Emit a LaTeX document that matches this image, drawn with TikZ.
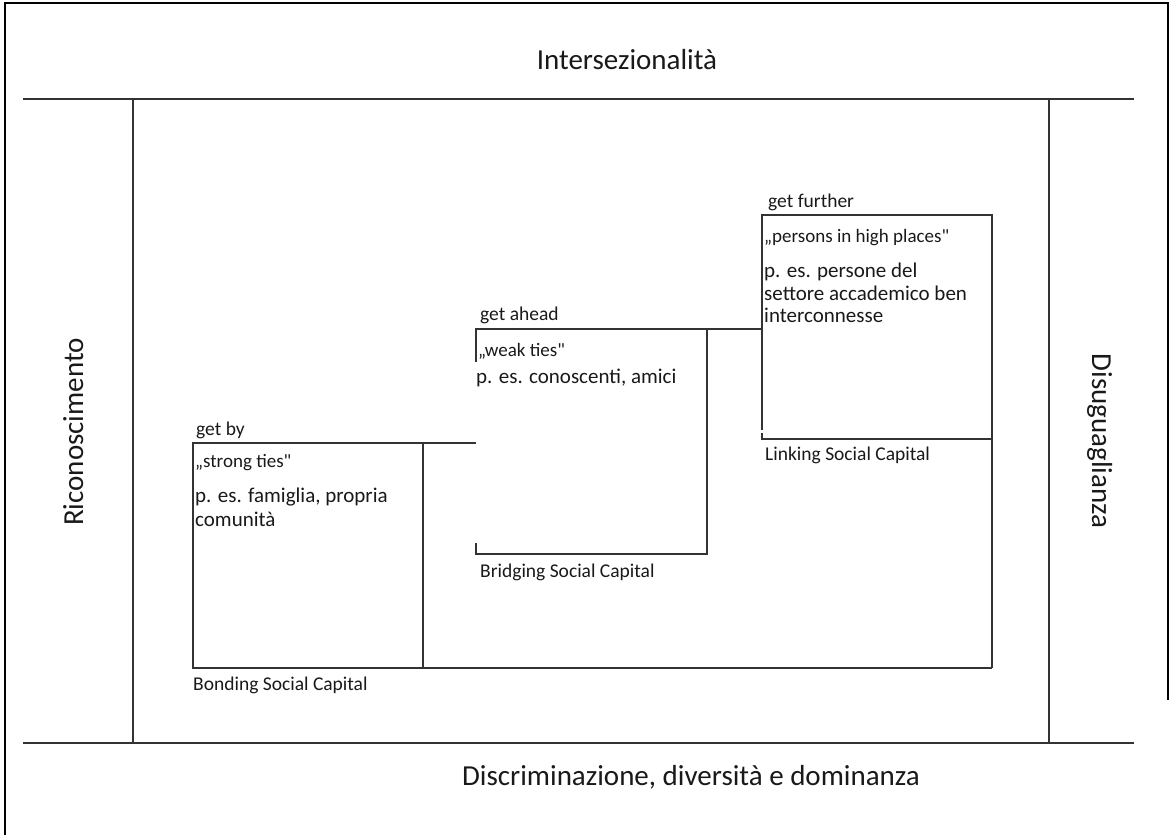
\documentclass[tikz,border=0pt]{standalone}
\usepackage{fontspec}
\setmainfont{Carlito}
\newfontfamily\qfont{Carlito}
\newcommand{\sq}{{\qfont"}}
\begin{document}
\begin{tikzpicture}[x=1pt,y=-1pt,
  frame/.style={line width=2pt,black},
  axis/.style={line width=2pt,draw=black!80},
  box/.style={line width=1.5pt,draw=black!80},
  big/.style={font=\fontsize{29}{34}\selectfont,inner sep=0pt,text=black!90},
  lab/.style={font=\fontsize{19.5}{23}\selectfont,inner sep=0pt,anchor=base west,text=black!90},
  quo/.style={font=\fontsize{19}{23}\selectfont,inner sep=0pt,anchor=base west,text=black!90},
  body/.style={font=\fontsize{21}{24}\selectfont,inner sep=0pt,anchor=base west,align=left,text=black!90}]
\useasboundingbox (0,0) rectangle (1171,835);
% outer frame
\coordinate (fTL) at (5,3);
\coordinate (fTR) at (1168,3);
\coordinate (fBL) at (5,835);
\coordinate (fBR) at (1168,700);
\draw[frame] (fBL) -- (fTL) -- (fTR) -- (fBR);
% axes
\coordinate (hTL) at (23,99);  \coordinate (hTR) at (1134,99);
\coordinate (hBL) at (23,743); \coordinate (hBR) at (1134,743);
\coordinate (vLT) at (133,99); \coordinate (vLB) at (133,743);
\coordinate (vRT) at (1049,99); \coordinate (vRB) at (1049,743);
\draw[axis] (hTL) -- (hTR);
\draw[axis] (hBL) -- (hBR);
\draw[box] (vLT) -- (vLB);
\draw[box] (vRT) -- (vRB);
% axis labels
\node[big,anchor=base] (inter) at (627,69) {Intersezionalità};
\node[big,anchor=base] (discr) at (691,785) {Discriminazione, diversità e dominanza};
\node[big,anchor=base,rotate=90] (ricon) at (83,432) {Riconoscimento};
\node[big,anchor=base,rotate=-90] (disug) at (1092,441) {Disuguaglianza};
% bonding
\coordinate (b1) at (193,443); \coordinate (b2) at (476,443);
\coordinate (b3) at (193,668); \coordinate (b4) at (992,668);
\coordinate (bm1) at (423,443); \coordinate (bm2) at (423,668);
\draw[box] (b2) -- (b1) -- (b3) -- (b4);
\draw[box] (bm1) -- (bm2);
% bridging
\coordinate (r1) at (476,329); \coordinate (r2) at (762,329);
\coordinate (r3) at (707,329); \coordinate (r4) at (707,554);
\coordinate (r5) at (476,554); \coordinate (r6) at (476,543);
\coordinate (r7) at (476,362);
\draw[box] (r7) -- (r1) -- (r2);
\draw[box] (r3) -- (r4) -- (r5) -- (r6);
% linking
\coordinate (l1) at (762,215); \coordinate (l2) at (992,215);
\coordinate (l3) at (762,430); \coordinate (l4) at (762,433);
\coordinate (l5) at (762,439); \coordinate (l6) at (992,439);
\draw[box] (l3) -- (l1) -- (l2) -- (b4);
\draw[box] (l4) -- (l5) -- (l6);
% texts
\node[lab] (getby) at (196,435) {get by};
\node[quo] (strong) at (195,467) {„strong ties\sq};
\node[body] (fam1) at (195,502) {p. es. famiglia, propria};
\node[body] (fam2) at (195,526) {comunità};
\node[lab] (bond) at (193,690) {Bonding Social Capital};
\node[lab] (getahead) at (480,320) {get ahead};
\node[quo] (weak) at (478,356) {„weak ties\sq};
\node[body] (con) at (476,383) {p. es. conoscenti, amici};
\node[lab] (bridg) at (480,577) {Bridging Social Capital};
\node[lab] (getfur) at (768,207) {get further};
\node[quo] (pers) at (764,242) {„persons in high places\sq};
\node[body] (acc1) at (764,277) {p. es. persone del};
\node[body] (acc2) at (764,300) {settore accademico ben};
\node[body] (acc3) at (764,322) {interconnesse};
\node[lab] (link) at (765,460) {Linking Social Capital};
\end{tikzpicture}
\end{document}
